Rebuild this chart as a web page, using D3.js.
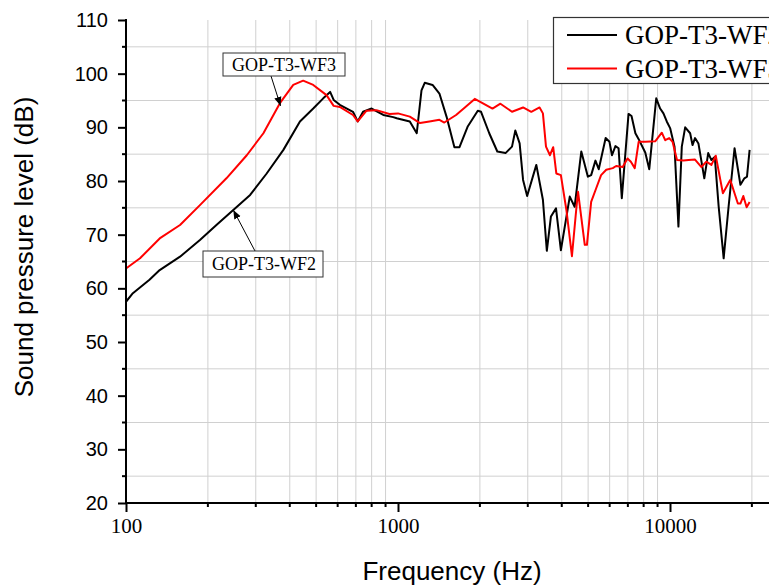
<!DOCTYPE html>
<html><head><meta charset="utf-8">
<script src="https://cdn.jsdelivr.net/npm/d3@7"></script>
<style>body{margin:0;background:#fff}svg{display:block}</style>
</head><body>
<svg id="c" width="769" height="588"></svg>
<script>
const wf2Freq=[100,106,122,133,158,187,215,248,286,329,379,436,488,531,563,580,611,683,711,744,800,883,960,989,1105,1172,1220,1254,1340,1420,1508,1612,1683,1802,1965,2020,2165,2318,2485,2625,2700,2800,2883,2984,3225,3410,3525,3650,3810,3970,4280,4460,4720,4990,5130,5320,5470,5800,5990,6120,6300,6470,6650,7040,7220,7460,7670,8110,8390,8900,9200,9460,9730,10020,10390,10740,11050,11370,11860,12100,12360,12720,13370,13820,14200,14610,15100,15750,16420,17270,18150,18770,19190,19620];
const wf2SPL=[57.5,59.1,61.6,63.4,65.9,69.0,71.8,74.6,77.4,81.4,85.8,91.1,93.5,95.4,96.6,95.1,94.2,92.9,91.1,92.9,93.5,92.3,91.9,91.7,91.1,88.9,96.9,98.3,97.9,96.3,92.0,86.3,86.3,90.1,93.1,92.9,88.9,85.5,85.2,86.4,89.4,87.0,80.2,77.2,83.0,76.5,67.0,73.4,74.9,67.1,77.1,75.2,85.5,80.8,81.1,83.8,82.2,88.0,87.3,84.8,86.5,86.1,76.8,92.5,92.1,88.9,87.8,85.3,82.2,95.4,93.5,92.6,91.1,89.8,86.4,71.5,86.4,90.0,88.9,86.7,88.0,87.0,80.5,85.2,83.9,84.5,75.2,65.6,75.2,86.1,79.3,80.5,80.8,85.8];
const wf3Freq=[100,112.6,133,158,187,234,278,320,368,412,448,488,546,580,611,683,711,766,833,930,1000,1105,1205,1305,1420,1480,1635,1770,1915,2045,2225,2380,2625,2883,3090,3315,3410,3500,3620,3720,3820,3970,4160,4360,4520,4590,4860,4950,5130,5350,5580,5830,6160,6340,6700,6980,7180,7420,7670,8110,8820,9330,9600,9930,10220,10610,11210,11700,12360,13050,13600,14200,14730,15650,16650,17760,18150,18600,19130,19620];
const wf3SPL=[63.7,65.6,69.3,71.8,75.5,80.5,84.8,88.9,94.5,97.9,98.7,97.9,96.0,94.0,93.8,92.3,91.1,93.1,93.2,92.5,92.6,92.0,90.8,91.1,91.4,90.9,92.3,93.8,95.3,94.5,93.5,94.4,92.9,93.7,92.9,93.7,92.6,86.4,84.8,86.3,81.4,81.1,74.6,66.0,74.6,78.0,68.1,68.1,76.1,78.6,81.1,82.1,82.4,82.8,82.6,84.2,83.6,82.4,87.3,87.3,87.4,89.0,87.6,88.0,87.3,83.9,83.8,83.9,84.0,82.6,83.6,83.0,84.7,77.7,80.2,75.8,75.8,77.2,75.1,76.1];
const seriesNames=["GOP-T3-WF2","GOP-T3-WF3"];
const seriesColors=["#000000","#ff0000"];
const xMajor=[100,1000,10000];
const xMinor=[200,300,400,500,600,700,800,900,2000,3000,4000,5000,6000,7000,8000,9000,20000];
const yMajor=[20,30,40,50,60,70,80,90,100,110];
const yMinor=[25,35,45,55,65,75,85,95,105];

const svg=d3.select("#c");
const x=d3.scaleLog().domain([100,25000]).range([126,126+272*Math.log10(250)]);
const y=d3.scaleLinear().domain([20,110]).range([503,20]);
const sans="'Liberation Sans',Arial,sans-serif", serif="'Liberation Serif','Times New Roman',serif";

// grid
svg.append("g").selectAll("line").data(xMinor).join("line")
 .attr("x1",d=>x(d)).attr("x2",d=>x(d)).attr("y1",y(110)).attr("y2",y(20))
 .attr("stroke","#d0d0d0").attr("stroke-width",1);
svg.append("g").selectAll("line").data(yMinor).join("line")
 .attr("x1",x(100)).attr("x2",800).attr("y1",d=>y(d)).attr("y2",d=>y(d))
 .attr("stroke","#d0d0d0").attr("stroke-width",1);

// lines
const line=d3.line().x(d=>x(d[0])).y(d=>y(d[1]));
const s1=wf2Freq.map((f,i)=>[f,wf2SPL[i]]);
const s2=wf3Freq.map((f,i)=>[f,wf3SPL[i]]);
svg.append("path").attr("d",line(s1)).attr("fill","none").attr("stroke",seriesColors[0]).attr("stroke-width",2).attr("stroke-linejoin","round");
svg.append("path").attr("d",line(s2)).attr("fill","none").attr("stroke",seriesColors[1]).attr("stroke-width",2).attr("stroke-linejoin","round");

// axes
const xa=svg.append("g").attr("transform",`translate(0,${y(20)})`)
 .call(d3.axisBottom(x).tickValues(xMajor).tickSize(9).tickPadding(6).tickFormat(d3.format("d")));
xa.select(".domain").remove();
xa.selectAll(".tick line").attr("stroke-width",2);
xa.selectAll("text").attr("font-family",serif).attr("font-size",21).attr("fill","#000");
xa.append("g").selectAll("line").data(xMinor).join("line")
 .attr("x1",d=>x(d)).attr("x2",d=>x(d)).attr("y1",0).attr("y2",4).attr("stroke","#000").attr("stroke-width",2);
svg.append("line").attr("x1",x(100)-1).attr("x2",800).attr("y1",y(20)).attr("y2",y(20)).attr("stroke","#000").attr("stroke-width",2);

const ya=svg.append("g").attr("transform",`translate(${x(100)},0)`)
 .call(d3.axisLeft(y).tickValues(yMajor).tickSize(8).tickPadding(10));
ya.select(".domain").remove();
ya.selectAll(".tick line").attr("stroke-width",2);
ya.selectAll("text").attr("font-family",sans).attr("font-size",20).attr("fill","#000");
ya.append("g").selectAll("line").data(yMinor).join("line")
 .attr("x1",0).attr("x2",-4).attr("y1",d=>y(d)).attr("y2",d=>y(d)).attr("stroke","#000").attr("stroke-width",2);
svg.append("line").attr("x1",x(100)).attr("x2",x(100)).attr("y1",y(110)-1).attr("y2",y(20)+1).attr("stroke","#000").attr("stroke-width",2);

// axis titles
svg.append("text").attr("x",452).attr("y",580).attr("text-anchor","middle")
 .attr("font-family",sans).attr("font-size",26).text("Frequency (Hz)");
svg.append("text").attr("transform","translate(33,247) rotate(-90)").attr("text-anchor","middle")
 .attr("font-family",sans).attr("font-size",26).text("Sound pressure level (dB)");

// arrow marker
svg.append("defs").append("marker").attr("id","ah").attr("viewBox","0 0 10 10")
 .attr("refX",10).attr("refY",5).attr("markerWidth",9).attr("markerHeight",9).attr("markerUnits","userSpaceOnUse")
 .attr("orient","auto").append("path").attr("d","M0,1 L10,5 L0,9 Z").attr("fill","#000");

// annotations
function annot(bx,by,bw,bh,tx,ty,label,ax1,ay1,ax2,ay2){
  svg.append("line").attr("x1",ax1).attr("y1",ay1).attr("x2",ax2).attr("y2",ay2)
   .attr("stroke","#000").attr("stroke-width",1).attr("marker-end","url(#ah)");
  svg.append("rect").attr("x",bx).attr("y",by).attr("width",bw).attr("height",bh)
   .attr("fill","#fff").attr("stroke","#333").attr("stroke-width",1);
  svg.append("text").attr("x",tx).attr("y",ty).attr("text-anchor","middle")
   .attr("font-family",serif).attr("font-size",18).text(label);
}
annot(223,53,122,23,284,71,seriesNames[1],271,76,x(370),y(94));
annot(203,251,120,26,264,270,seriesNames[0],255,251,x(248),y(74.6));

// legend
const lg=svg.append("g");
lg.append("rect").attr("x",553.5).attr("y",17.5).attr("width",300).attr("height",66)
 .attr("fill","#fff").attr("stroke","#333").attr("stroke-width",1.2);
seriesNames.forEach((n,i)=>{
  const yy=35+i*33.5;
  lg.append("line").attr("x1",567).attr("x2",617).attr("y1",yy).attr("y2",yy).attr("stroke",seriesColors[i]).attr("stroke-width",2);
  lg.append("text").attr("x",625).attr("y",yy+9).attr("font-family",serif).attr("font-size",27).text(n);
});
</script>
</body></html>
